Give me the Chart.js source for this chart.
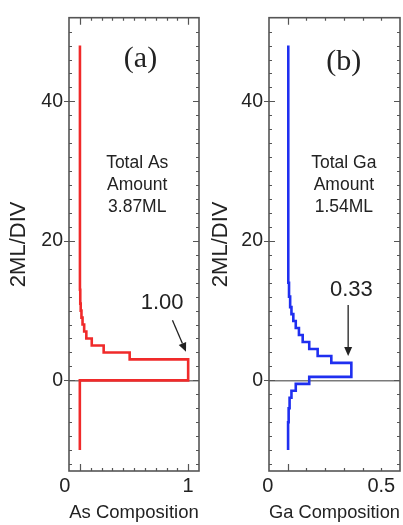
<!DOCTYPE html>
<html>
<head>
<meta charset="utf-8">
<script src="https://cdn.jsdelivr.net/npm/chart.js@4.4.1/dist/chart.umd.min.js"></script>
<style>
    html, body { margin: 0; padding: 0; background: #fff; }
    .panel { position: absolute; top: 0; height: 525px; }
    #wrap-as { left: 0; width: 202px; }
    #wrap-ga { left: 202px; width: 201px; }
</style>
</head>
<body>
<div class="panel" id="wrap-as"><canvas id="chart-as"></canvas></div>
<div class="panel" id="wrap-ga"><canvas id="chart-ga"></canvas></div>
<script>
// Layer position (2ML/DIV) where each composition step begins, and the composition held until the next one
const asDepth = [-10, 0, 3, 4, 5, 6, 7, 8, 9, 10, 11, 13, 48];
const asComp  = [0, 1.00, 0.46, 0.22, 0.11, 0.06, 0.04, 0.025, 0.015, 0.008, 0.004, 0.001, 0.001];

const gaDepth = [-10, -6, -4, -2.5, -1.5, -0.5, 0.5, 2.5, 3.5, 4.5, 5.5, 6.5, 7.5, 8.5, 9.5, 10.5, 12, 14, 48];
const gaComp  = [0.002, 0.005, 0.01, 0.02, 0.043, 0.115, 0.34, 0.233, 0.16, 0.115, 0.08, 0.06, 0.043, 0.03, 0.02, 0.013, 0.007, 0.003, 0.003];

// Tick labels
const yTickLabels = [0, 20, 40];
const asTickLabels = [0, 1];
const gaTickLabels = [0, 0.5];

// Annotation texts
const asNote = ['Total As', 'Amount', '3.87ML'];
const gaNote = ['Total Ga', 'Amount', '1.54ML'];
const asPeak = '1.00';
const gaPeak = '0.33';

const SANS = "'Liberation Sans', Arial, sans-serif";
const SERIF = "'Liberation Serif', 'Times New Roman', serif";
const INK = '#222';

Chart.defaults.font.family = SANS;
Chart.defaults.color = INK;

const near = (a, b) => Math.abs(a - b) < 1e-9;

// Frame, crossing ticks and the text notes, all placed through the chart scales
const framePlugin = {
    id: 'frame',
    afterDraw(chart, args, o) {
        const { ctx, chartArea: a } = chart;
        const x = chart.scales.x, y = chart.scales.y;
        ctx.save();

        ctx.strokeStyle = '#555';
        ctx.lineWidth = 1.2;
        ctx.beginPath();
        y.ticks.forEach(t => {
            if (t.value <= y.min || t.value >= y.max) return;
            const py = Math.round(y.getPixelForValue(t.value)) + 0.5;
            const major = yTickLabels.some(v => near(v, t.value));
            ctx.moveTo(a.left - (major ? 5 : 0), py); ctx.lineTo(a.left + (major ? 6 : 3), py);
            ctx.moveTo(a.right - (major ? 6 : 3), py); ctx.lineTo(a.right, py);
        });
        x.ticks.forEach(t => {
            if (t.value <= x.min + 1e-9 || t.value >= x.max - 1e-9) return;
            const px = Math.round(x.getPixelForValue(t.value)) + 0.5;
            const len = o.majorX.some(v => near(v, t.value)) ? 7 : 3;
            ctx.moveTo(px, a.top); ctx.lineTo(px, a.top + len);
            ctx.moveTo(px, a.bottom); ctx.lineTo(px, a.bottom - len);
        });
        ctx.stroke();
        ctx.lineWidth = 1.6;
        ctx.strokeRect(a.left, a.top, a.right - a.left, a.bottom - a.top);

        ctx.fillStyle = INK;
        ctx.textAlign = 'center';
        ctx.textBaseline = 'middle';

        // panel tag
        ctx.font = `30px ${SERIF}`;
        ctx.fillText(o.tag, x.getPixelForValue(o.tagAt[0]), y.getPixelForValue(o.tagAt[1]));

        // total amount note
        ctx.font = `17.5px ${SANS}`;
        const nx = x.getPixelForValue(o.noteAt[0]);
        const ny = y.getPixelForValue(o.noteAt[1]);
        o.note.forEach((line, i) => ctx.fillText(line, nx, ny + i * 22));

        // peak value and arrow
        ctx.font = `22px ${SANS}`;
        ctx.fillText(o.peak, x.getPixelForValue(o.peakAt[0]), y.getPixelForValue(o.peakAt[1]));
        const x0 = x.getPixelForValue(o.arrow[0][0]), y0 = y.getPixelForValue(o.arrow[0][1]);
        const x1 = x.getPixelForValue(o.arrow[1][0]), y1 = y.getPixelForValue(o.arrow[1][1]);
        const ang = Math.atan2(y1 - y0, x1 - x0);
        const hl = 9, hw = 4;
        const bx = x1 - hl * Math.cos(ang), by = y1 - hl * Math.sin(ang);
        ctx.strokeStyle = INK;
        ctx.lineWidth = 1.3;
        ctx.beginPath();
        ctx.moveTo(x0, y0); ctx.lineTo(bx, by);
        ctx.stroke();
        ctx.beginPath();
        ctx.moveTo(x1, y1);
        ctx.lineTo(bx - hw * Math.sin(ang), by + hw * Math.cos(ang));
        ctx.lineTo(bx + hw * Math.sin(ang), by - hw * Math.cos(ang));
        ctx.closePath();
        ctx.fill();

        ctx.restore();
    }
};

function makePanel(id, depth, comp, color, xMax, xLabels, zeroPad, xTitle, yWidth, frame) {
    const points = depth.map((d, i) => ({ x: comp[i], y: d }));
    return new Chart(document.getElementById(id), {
        type: 'scatter',
        data: {
            datasets: [{
                data: points, showLine: true, stepped: 'after', fill: false,
                borderColor: color, borderWidth: 2.6, pointRadius: 0
            }]
        },
        options: {
            responsive: true, maintainAspectRatio: false, animation: false,
            layout: { padding: { top: 11, right: 2, left: 0, bottom: 0 } },
            plugins: { legend: { display: false }, tooltip: { enabled: false }, frame },
            scales: {
                x: {
                    type: 'linear', min: -0.1, max: xMax,
                    border: { display: false },
                    grid: { display: false, drawTicks: false },
                    ticks: {
                        stepSize: 0.1, autoSkip: false, maxRotation: 0, minRotation: 0,
                        padding: 3, font: { size: 20 }, color: INK,
                        callback: v => {
                            const hit = xLabels.find(l => near(l, v));
                            if (hit === undefined) return '';
                            return hit === 0 ? '0' + zeroPad : String(hit);
                        }
                    },
                    title: { display: true, text: xTitle, color: INK, font: { size: 18.5 }, padding: { top: 0, bottom: 1 } },
                    afterFit: s => { s.height = 54; }
                },
                y: {
                    type: 'linear', min: -13, max: 52,
                    border: { display: false },
                    grid: {
                        drawTicks: false, lineWidth: 1.5,
                        color: c => (c.tick && c.tick.value === 0) ? '#7a7a7a' : 'rgba(0,0,0,0)'
                    },
                    ticks: {
                        stepSize: 2, includeBounds: false, autoSkip: false,
                        padding: 6, font: { size: 19.5 }, color: INK,
                        callback: v => yTickLabels.includes(v) ? String(v) : ''
                    },
                    title: { display: true, text: '2ML/DIV', color: INK, font: { size: 22 }, padding: { top: 6, bottom: 0 } },
                    afterFit: s => { s.width = yWidth; }
                }
            }
        },
        plugins: [framePlugin]
    });
}

makePanel('chart-as', asDepth, asComp, '#f02a2a', 1.1, asTickLabels, '\u2002\u2002\u2002', 'As Composition', 69, {
    majorX: [0, 1], tag: '(a)', tagAt: [0.56, 46], note: asNote, noteAt: [0.53, 31.1],
    peak: asPeak, peakAt: [0.76, 11.1], arrow: [[0.855, 8.6], [0.98, 4.1]]
});

makePanel('chart-ga', gaDepth, gaComp, '#1f2ff0', 0.6, gaTickLabels, '\u2002\u2002\u2002\u2002', 'Ga Composition', 67, {
    majorX: [0], tag: '(b)', tagAt: [0.30, 45.6], note: gaNote, noteAt: [0.30, 31.1],
    peak: gaPeak, peakAt: [0.34, 13], arrow: [[0.323, 10.8], [0.323, 3.5]]
});
</script>
</body>
</html>
